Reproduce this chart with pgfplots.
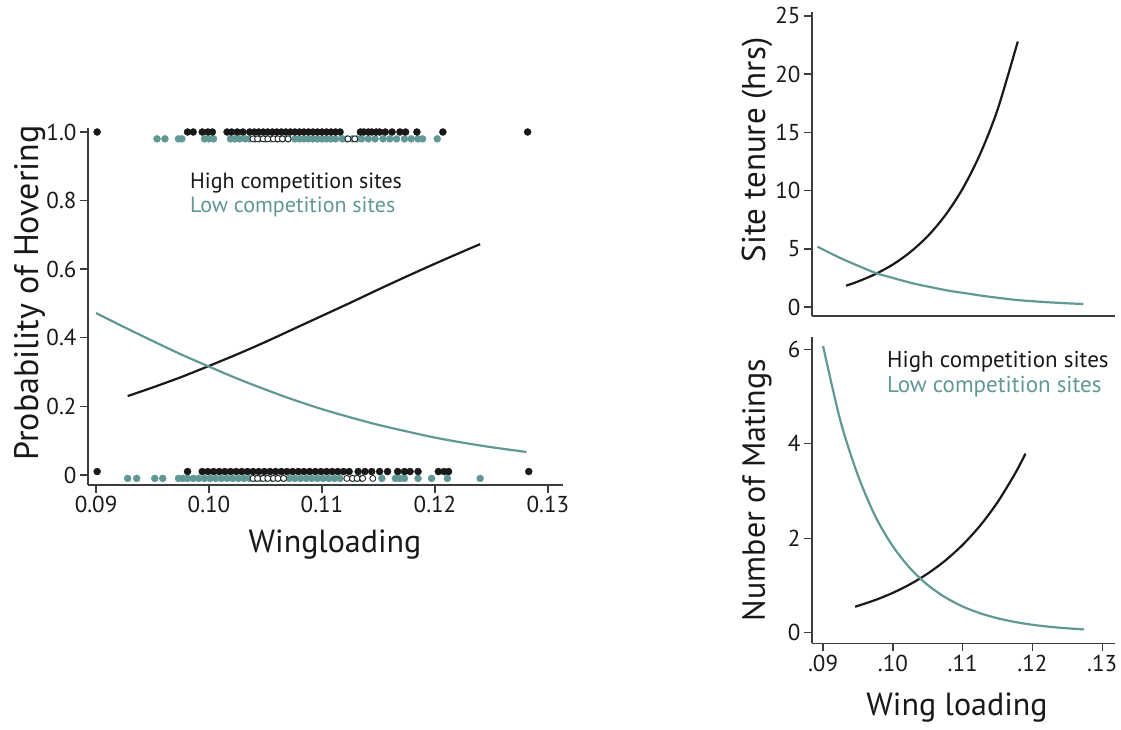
\documentclass[border=0pt]{standalone}
\usepackage{fontspec}
\setmainfont{PT Sans}
\usepackage{pgfplots}
\pgfplotsset{compat=1.18}

\definecolor{ink}{RGB}{25,25,25}
\definecolor{tealc}{RGB}{96,152,150}

\pgfplotsset{
  panel/.style={
    scale only axis,
    axis x line*=bottom, axis y line*=left,
    x axis line style={-}, y axis line style={-},
    axis line style={line width=1.4pt, draw=ink!85},
    every tick/.style={line width=1.4pt, draw=ink!85},
    tick align=outside,
    major tick length=8pt,
    /pgf/number format/assume math mode=true,
    tick label style={font=\fontsize{23}{25}\selectfont, text=ink},
    clip=false,
  },
  dots/.style={only marks, mark=*, mark size=3.5pt},
}

\begin{document}
\begin{tikzpicture}[x=1pt,y=1pt]
\useasboundingbox (0,0) rectangle (1121,730);

% ---- left: probability of hovering
\begin{axis}[panel, at={(88pt,245pt)}, anchor=south west,
    width=475pt, height=357pt,
    xmin=0.08929, xmax=0.13133, ymin=-0.0292, ymax=1.0117,
    xtick={0.09,0.10,0.11,0.12,0.13},
    xticklabels={0.09,0.10,0.11,0.12,0.13},
    ytick={0,0.2,0.4,0.6,0.8,1},
    yticklabels={0,0.2,0.4,0.6,0.8,1.0}]
% low competition observations
\addplot[dots, tealc] coordinates {
 (0.0954,0.98) (0.0961,0.98) (0.0973,0.98) (0.0976,0.98) (0.0996,0.98)
 (0.1000,0.98) (0.1004,0.98) (0.1019,0.98) (0.1023,0.98) (0.1027,0.98)
 (0.1032,0.98) (0.1036,0.98) (0.1041,0.98) (0.1045,0.98) (0.1050,0.98)
 (0.1055,0.98) (0.1060,0.98) (0.1065,0.98) (0.1070,0.98) (0.1076,0.98)
 (0.1080,0.98) (0.1084,0.98) (0.1088,0.98) (0.1092,0.98) (0.1096,0.98)
 (0.1100,0.98) (0.1104,0.98) (0.1108,0.98) (0.1112,0.98) (0.1118,0.98)
 (0.1122,0.98) (0.1127,0.98) (0.1131,0.98) (0.1135,0.98) (0.1141,0.98)
 (0.1147,0.98) (0.1154,0.98) (0.1160,0.98) (0.1166,0.98) (0.1173,0.98)
 (0.1179,0.98) (0.1185,0.98) (0.1189,0.98) (0.1202,0.98)
};
\addplot[dots, tealc] coordinates {
 (0.0928,-0.01) (0.0936,-0.01) (0.0952,-0.01) (0.0959,-0.01) (0.0973,-0.01)
 (0.0977,-0.01) (0.0981,-0.01) (0.0986,-0.01) (0.0991,-0.01) (0.0996,-0.01)
 (0.1001,-0.01) (0.1006,-0.01) (0.1011,-0.01) (0.1016,-0.01) (0.1021,-0.01)
 (0.1026,-0.01) (0.1031,-0.01) (0.1036,-0.01) (0.1041,-0.01) (0.1046,-0.01)
 (0.1051,-0.01) (0.1056,-0.01) (0.1061,-0.01) (0.1066,-0.01) (0.1071,-0.01)
 (0.1076,-0.01) (0.1081,-0.01) (0.1086,-0.01) (0.1091,-0.01) (0.1096,-0.01)
 (0.1101,-0.01) (0.1106,-0.01) (0.1111,-0.01) (0.1116,-0.01) (0.1127,-0.01)
 (0.1131,-0.01) (0.1135,-0.01) (0.1153,-0.01) (0.1165,-0.01) (0.1169,-0.01)
 (0.1173,-0.01) (0.1185,-0.01) (0.1197,-0.01) (0.1211,-0.01) (0.1240,-0.01)
};
% high competition observations
\addplot[dots, ink] coordinates {
 (0.0901,1.0) (0.0981,1.0) (0.0986,1.0) (0.0994,1.0) (0.0999,1.0)
 (0.1003,1.0) (0.1016,1.0) (0.1020,1.0) (0.1025,1.0) (0.1030,1.0)
 (0.1036,1.0) (0.1040,1.0) (0.1044,1.0) (0.1048,1.0) (0.1052,1.0)
 (0.1056,1.0) (0.1060,1.0) (0.1064,1.0) (0.1068,1.0) (0.1072,1.0)
 (0.1076,1.0) (0.1080,1.0) (0.1084,1.0) (0.1088,1.0) (0.1092,1.0)
 (0.1096,1.0) (0.1100,1.0) (0.1104,1.0) (0.1108,1.0) (0.1112,1.0)
 (0.1116,1.0) (0.1134,1.0) (0.1137,1.0) (0.1141,1.0) (0.1144,1.0)
 (0.1148,1.0) (0.1151,1.0) (0.1156,1.0) (0.1162,1.0) (0.1169,1.0)
 (0.1174,1.0) (0.1184,1.0) (0.1207,1.0) (0.1282,1.0)
};
\addplot[dots, ink] coordinates {
 (0.0901,0.01) (0.0981,0.01) (0.0994,0.01) (0.0999,0.01) (0.1004,0.01)
 (0.1009,0.01) (0.1014,0.01) (0.1019,0.01) (0.1024,0.01) (0.1029,0.01)
 (0.1034,0.01) (0.1039,0.01) (0.1044,0.01) (0.1049,0.01) (0.1054,0.01)
 (0.1059,0.01) (0.1064,0.01) (0.1069,0.01) (0.1074,0.01) (0.1079,0.01)
 (0.1084,0.01) (0.1089,0.01) (0.1094,0.01) (0.1099,0.01) (0.1104,0.01)
 (0.1109,0.01) (0.1114,0.01) (0.1119,0.01) (0.1124,0.01) (0.1132,0.01)
 (0.1138,0.01) (0.1144,0.01) (0.1151,0.01) (0.1158,0.01) (0.1167,0.01)
 (0.1173,0.01) (0.1178,0.01) (0.1185,0.01) (0.1203,0.01) (0.1208,0.01)
 (0.1212,0.01) (0.1283,0.01)
};
% overlapping (open) observations
\addplot[only marks, mark=*, mark size=3pt,
         mark options={fill=white, draw=ink, line width=0.8pt}] coordinates {
 (0.1039,0.98) (0.1043,0.98) (0.1048,0.98) (0.1052,0.98) (0.1057,0.98)
 (0.1061,0.98) (0.1065,0.98) (0.1070,0.98) (0.1123,0.98) (0.1129,0.98)
 (0.1039,-0.01) (0.1043,-0.01) (0.1048,-0.01) (0.1052,-0.01) (0.1057,-0.01)
 (0.1061,-0.01) (0.1066,-0.01) (0.1122,-0.01) (0.1127,-0.01) (0.1131,-0.01)
 (0.1136,-0.01) (0.1145,-0.01)
};
% fitted curves
\addplot[ink, line width=2.2pt, smooth] coordinates {
 (0.0928,0.230) (0.0950,0.255) (0.0975,0.285) (0.1000,0.318)
 (0.1025,0.352) (0.1050,0.388) (0.1075,0.426) (0.1100,0.464)
 (0.1125,0.502) (0.1150,0.541) (0.1175,0.579) (0.1200,0.616)
 (0.1225,0.652) (0.1240,0.673)
};
\addplot[tealc, line width=2.2pt, smooth] coordinates {
 (0.0900,0.472) (0.0925,0.431) (0.0950,0.391) (0.0975,0.352)
 (0.1000,0.316) (0.1025,0.281) (0.1050,0.249) (0.1075,0.219)
 (0.1100,0.192) (0.1125,0.168) (0.1150,0.146) (0.1175,0.127)
 (0.1200,0.109) (0.1225,0.094) (0.1250,0.081) (0.1281,0.067)
};
\end{axis}

% ---- right top: site tenure
\begin{axis}[panel, at={(812pt,414pt)}, anchor=south west,
    width=303pt, height=304pt,
    xmin=0.08842, xmax=0.13183, ymin=-0.77, ymax=25.34,
    xtick=\empty,
    ytick={0,5,10,15,20,25},
    yticklabels={0,5,10,15,20,25}]
\addplot[ink, line width=2.2pt, smooth] coordinates {
 (0.0933,1.83) (0.0950,2.19) (0.0975,2.83) (0.1000,3.65)
 (0.1025,4.72) (0.1050,6.09) (0.1075,7.87) (0.1100,10.16)
 (0.1125,13.13) (0.1150,16.95) (0.1179,22.80)
};
\addplot[tealc, line width=2.2pt, smooth] coordinates {
 (0.0892,5.18) (0.0925,4.20) (0.0950,3.55) (0.0977,2.89)
 (0.1000,2.50) (0.1029,2.03) (0.1055,1.70) (0.1080,1.40)
 (0.1106,1.17) (0.1130,0.95) (0.1155,0.76) (0.1178,0.60)
 (0.1200,0.50) (0.1225,0.40) (0.1250,0.32) (0.1273,0.26)
};
\end{axis}

% ---- right bottom: number of matings
\begin{axis}[panel, at={(812pt,86.7pt)}, anchor=south west,
    width=303pt, height=306.3pt,
    xmin=0.08842, xmax=0.13183, ymin=-0.224, ymax=6.26,
    xtick={0.09,0.10,0.11,0.12,0.13},
    xticklabels={.09,.10,.11,.12,.13},
    ytick={0,2,4,6},
    yticklabels={0,2,4,6}]
\addplot[ink, line width=2.2pt, smooth] coordinates {
 (0.0946,0.550) (0.0975,0.693) (0.1000,0.844) (0.1025,1.028)
 (0.1050,1.253) (0.1075,1.526) (0.1100,1.860) (0.1125,2.266)
 (0.1150,2.762) (0.1175,3.366) (0.1190,3.790)
};
\addplot[tealc, line width=2.2pt, smooth] coordinates {
 (0.0900,6.07) (0.0925,4.48) (0.0950,3.33) (0.0975,2.46)
 (0.1000,1.83) (0.1025,1.36) (0.1050,1.01) (0.1075,0.75)
 (0.1100,0.555) (0.1125,0.412) (0.1150,0.306) (0.1175,0.227)
 (0.1200,0.168) (0.1225,0.125) (0.1250,0.093) (0.1274,0.070)
};
\end{axis}

% ---- titles and legend text
\node[rotate=90, font=\fontsize{34}{36}\selectfont, text=ink] at (30,437) {Probability of\ Hovering};
\node[font=\fontsize{32}{34}\selectfont, text=ink] at (335,185) {Wingloading};
\node[rotate=90, font=\fontsize{33}{35}\selectfont, text=ink] at (757,580) {Site tenure (hrs)};
\node[rotate=90, font=\fontsize{32}{34}\selectfont, text=ink] at (757,240) {Number of Matings};
\node[font=\fontsize{32}{34}\selectfont, text=ink] at (957,22) {Wing loading};

\node[anchor=west, inner sep=0pt, font=\fontsize{22}{24}\selectfont, text=ink] at (190,547) {High competition sites};
\node[anchor=west, inner sep=0pt, font=\fontsize{22}{24}\selectfont, text=tealc] at (190,523) {Low competition sites};
\node[anchor=west, inner sep=0pt, font=\fontsize{23}{25}\selectfont, text=ink] at (887,368) {High competition sites};
\node[anchor=west, inner sep=0pt, font=\fontsize{23}{25}\selectfont, text=tealc] at (887,343) {Low competition sites};
\end{tikzpicture}
\end{document}
